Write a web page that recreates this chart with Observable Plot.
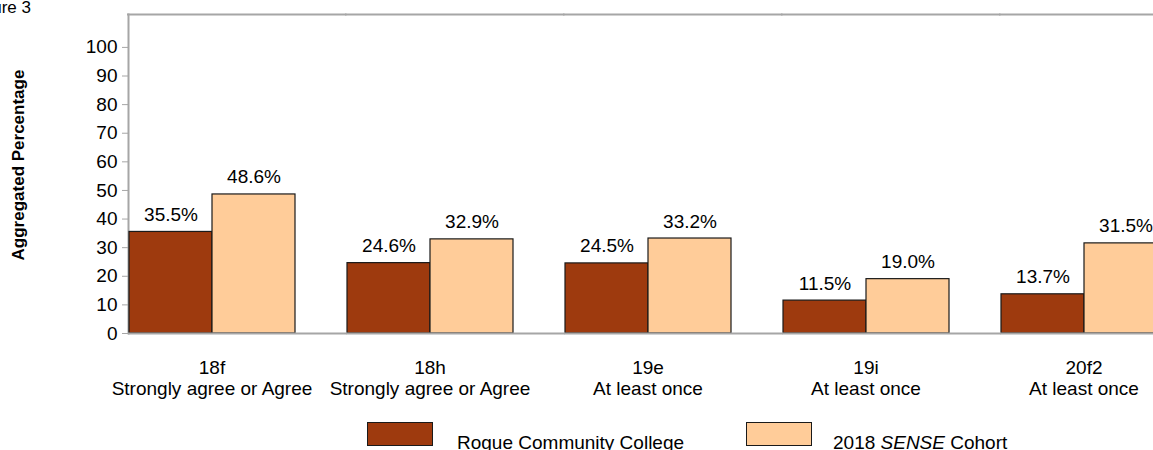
<!DOCTYPE html>
<html><head><meta charset="utf-8">
<script src="https://cdn.jsdelivr.net/npm/d3@7"></script>
<script src="https://cdn.jsdelivr.net/npm/@observablehq/plot@0.6"></script>
<style>
html,body{margin:0;padding:0;background:#fff;overflow:hidden;}
body{font-family:"Liberation Sans",Arial,sans-serif;color:#000;}
#wrap{position:relative;width:1153px;height:450px;overflow:hidden;}
#fig{position:absolute;right:1122px;top:-2px;font-size:17px;white-space:nowrap;}
#ytitle{position:absolute;left:19px;top:165px;transform:translate(-50%,-50%) rotate(-90deg);font-weight:bold;font-size:17px;white-space:nowrap;}
#chart{position:absolute;left:0;top:0;}
.lg-box{position:absolute;width:66px;height:24px;box-sizing:border-box;border:1.2px solid #1a1a1a;}
.lg-text{position:absolute;font-size:19px;line-height:19px;white-space:nowrap;}
</style>
</head><body>
<div id="wrap">
  <div id="chart"></div>
  <div id="fig">Figure 3</div>
  <div id="ytitle">Aggregated Percentage</div>
  <div id="legend"></div>
</div>
<script>
const categories = ["18f", "18h", "19e", "19i", "20f2"];
const responses = ["Strongly agree or Agree", "Strongly agree or Agree", "At least once", "At least once", "At least once"];
const seriesNames = ["Rogue Community College", "2018 SENSE Cohort"];
const rogueValues = [35.5, 24.6, 24.5, 11.5, 13.7];
const cohortValues = [48.6, 32.9, 33.2, 19.0, 31.5];
const yTicks = [0, 10, 20, 30, 40, 50, 60, 70, 80, 90, 100];
const seriesColors = ["#9E3A0E", "#FFCC99"];
const yMax = 111.5;

const data = categories.flatMap((c, i) => [
  {cat: c, series: seriesNames[0], value: rogueValues[i]},
  {cat: c, series: seriesNames[1], value: cohortValues[i]}
]);
const catLabels = categories.map((c, i) => ({cat: c, label: c + "\n" + responses[i]}));

const chart = Plot.plot({
  width: 1170,
  height: 405,
  marginLeft: 127,
  marginRight: 2.5,
  marginTop: 14,
  marginBottom: 72,
  style: {maxWidth: "none", fontFamily: "'Liberation Sans', Arial, sans-serif", fontSize: "19px", color: "#000", background: "transparent", overflow: "visible"},
  fx: {domain: categories, paddingInner: 0.2357, paddingOuter: 0, axis: null, label: null},
  x: {domain: seriesNames, padding: 0, axis: null},
  y: {domain: [0, yMax], axis: null},
  color: {domain: seriesNames, range: seriesColors},
  marks: [
    Plot.frame({anchor: "left", stroke: "#a6a6a6", strokeWidth: 2, fx: () => categories[0]}),
    Plot.ruleY([yMax], {stroke: "#a6a6a6", strokeWidth: 2, insetLeft: -1, insetRight: -51.5}),
    Plot.barY(data, {fx: "cat", x: "series", y: "value", fill: "series", stroke: "#1a1a1a", strokeWidth: 1.2}),
    Plot.ruleY([0], {stroke: "#a6a6a6", strokeWidth: 2, insetRight: -51.5}),
    Plot.text(data, {fx: "cat", x: "series", y: "value", text: d => d.value.toFixed(1) + "%", lineAnchor: "bottom", dy: -11, fontSize: 19, fill: "#000"}),
    Plot.text(catLabels, {fx: "cat", text: "label", frameAnchor: "bottom", lineAnchor: "top", dy: 25.5, lineHeight: 1.1, fontSize: 19, fill: "#000"}),
    Plot.axisY({ticks: yTicks, tickSize: 6, tickPadding: 5, stroke: "#a6a6a6", fill: "#000", label: null, fontSize: 19, tickFormat: d => String(d)})
  ]
});
document.getElementById("chart").appendChild(chart);

// legend built from the series arrays
const legendPos = [{box: 367, text: 457}, {box: 746, text: 833}];
const legend = d3.select("#legend");
seriesNames.forEach((name, i) => {
  legend.append("div").attr("class", "lg-box")
    .style("left", legendPos[i].box + "px").style("top", "422px")
    .style("background", seriesColors[i]);
  const t = legend.append("div").attr("class", "lg-text")
    .style("left", legendPos[i].text + "px").style("top", "433px");
  if (name.includes("SENSE")) {
    const parts = name.split("SENSE");
    t.append("span").text(parts[0]);
    t.append("i").text("SENSE");
    t.append("span").text(parts[1]);
  } else {
    t.text(name);
  }
});
</script>
</body></html>
